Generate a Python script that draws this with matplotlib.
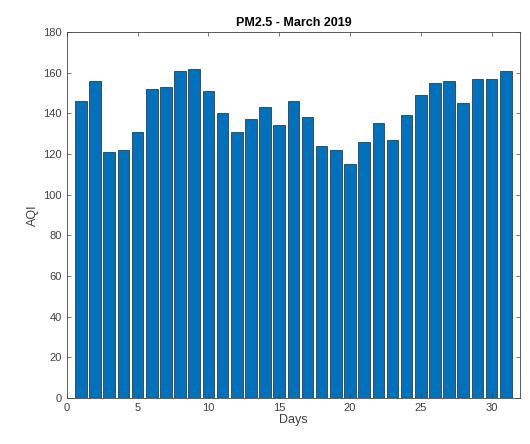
import matplotlib
matplotlib.use("Agg")
import matplotlib.pyplot as plt

plt.rcParams['font.family'] = ['Liberation Sans', 'DejaVu Sans']

# PM2.5 AQI per day, March 2019
days = list(range(1, 32))
aqi = [146, 156, 121, 122, 131, 152, 153, 161, 162, 151,
       140, 131, 137, 143, 134, 146, 138, 124, 122, 115,
       126, 135, 127, 139, 149, 155, 156, 145, 157, 157, 161]

x_ticks = [0, 5, 10, 15, 20, 25, 30]
y_ticks = list(range(0, 181, 20))

fig = plt.figure(figsize=(5.3, 4.44), dpi=100)
ax = fig.add_axes([0.126, 0.104, 0.855, 0.824])

ax.bar(days, aqi, width=0.82, color='#0072BD', edgecolor='#222222', linewidth=0.5)

ax.set_xlim(0, 32)
ax.set_ylim(0, 180)
ax.set_xticks(x_ticks)
ax.set_yticks(y_ticks)

# MATLAB-like axes look
ax.tick_params(direction='in', top=True, right=True, length=3, width=0.5,
               labelsize=8, colors='#404040')
for s in ax.spines.values():
    s.set_linewidth(0.6)
    s.set_color('#404040')

ax.set_title('PM2.5 - March 2019', fontsize=9, fontweight='bold', color='black', pad=4)
ax.set_xlabel('Days', fontsize=9, color='#404040', labelpad=1)
ax.set_ylabel('AQI', fontsize=9, color='#404040', labelpad=3)

fig.savefig('out.png', dpi=100)
